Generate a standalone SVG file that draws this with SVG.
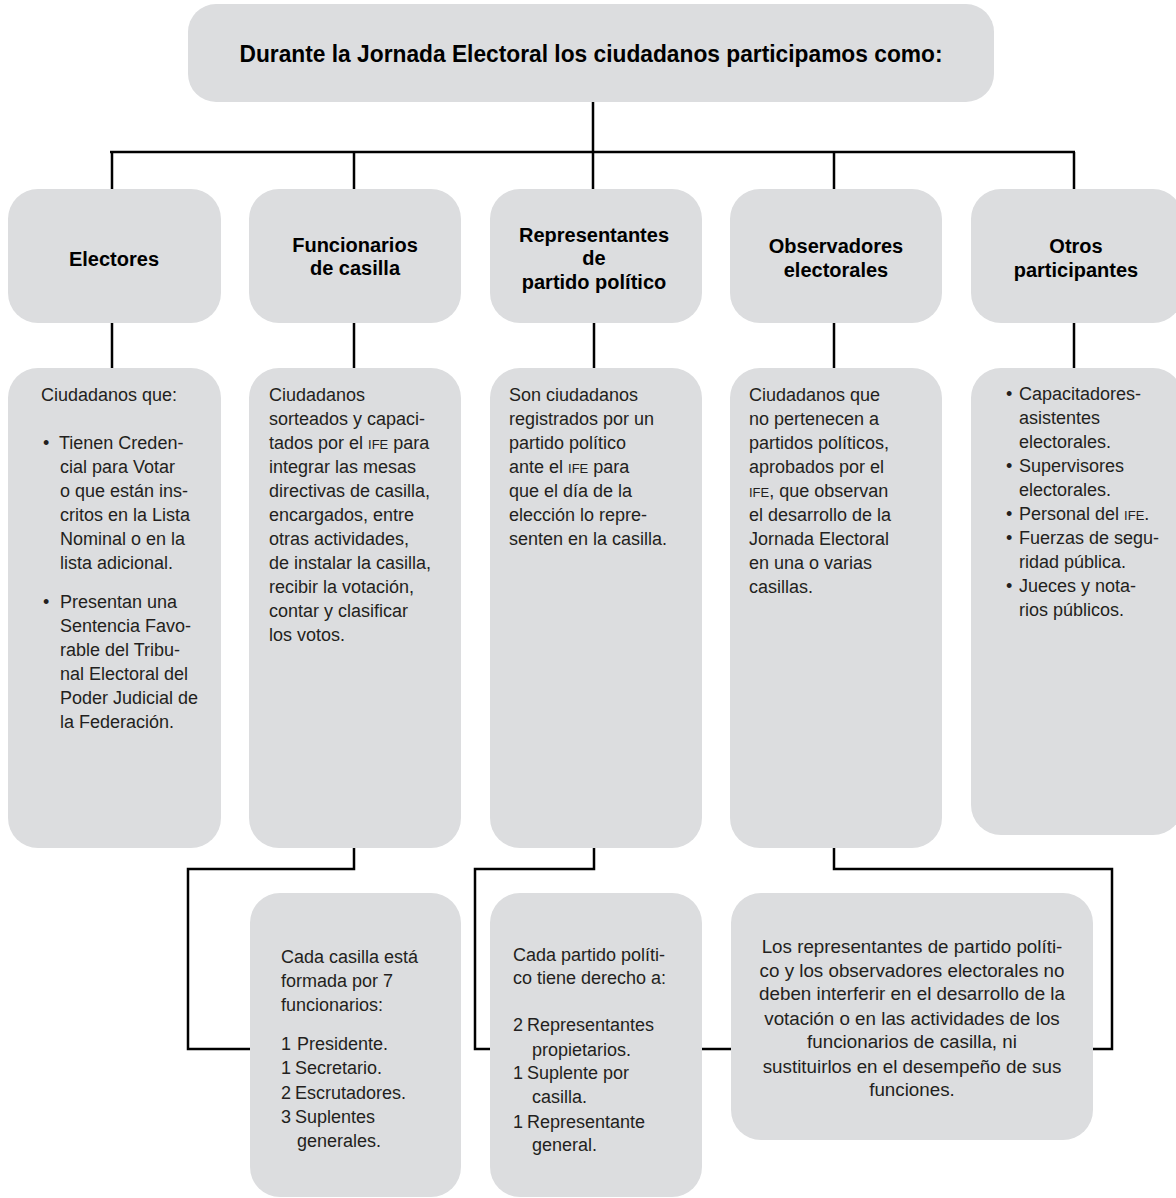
<svg xmlns="http://www.w3.org/2000/svg" width="1176" height="1198" viewBox="0 0 1176 1198">
<style>
.box{fill:#dcdddf}
.hd{font-family:"Liberation Sans",Arial,sans-serif;font-weight:bold;font-size:20px;fill:#000;text-anchor:middle}
.tt{font-family:"Liberation Sans",Arial,sans-serif;font-weight:bold;font-size:23px;fill:#000;text-anchor:middle}
.tx{font-family:"Liberation Sans",Arial,sans-serif;font-size:18px;fill:#231f20}
.tc{font-family:"Liberation Sans",Arial,sans-serif;font-size:18.8px;fill:#231f20;text-anchor:middle}
.sc{font-size:13px}
.ln{stroke:#000;stroke-width:2.5;fill:none}
</style>
<rect width="1176" height="1198" fill="#fff"/>
<g id="connectors">
<path class="ln" d="M593 102V152M110 152H1075M112 152V189M354 152V189M593 152V189M834 152V189M1074 152V189"/>
<path class="ln" d="M112 323V368M354 323V368M594 323V368M834 323V368M1074 323V368"/>
<path class="ln" d="M354 848V869H188V1049H250"/>
<path class="ln" d="M594 848V869H475V1049H490"/>
<path class="ln" d="M702 1049H731"/>
<path class="ln" d="M834 848V869H1112V1049H1093"/>
</g>
<g id="title">
<rect class="box" x="188" y="4" width="806" height="98" rx="28"/>
<text class="tt" x="591" y="62" textLength="703" lengthAdjust="spacingAndGlyphs">Durante la Jornada Electoral los ciudadanos participamos como:</text>
</g>
<g id="h-electores">
<rect class="box" x="8" y="189" width="213" height="134" rx="30"/>
<text class="hd" x="114" y="266">Electores</text>
</g>
<g id="h-funcionarios">
<rect class="box" x="249" y="189" width="212" height="134" rx="30"/>
<text class="hd" x="355" y="252">Funcionarios</text>
<text class="hd" x="355" y="275">de casilla</text>
</g>
<g id="h-representantes">
<rect class="box" x="490" y="189" width="212" height="134" rx="30"/>
<text class="hd" x="594" y="242">Representantes</text>
<text class="hd" x="594" y="265">de</text>
<text class="hd" x="594" y="289">partido político</text>
</g>
<g id="h-observadores">
<rect class="box" x="730" y="189" width="212" height="134" rx="30"/>
<text class="hd" x="836" y="253">Observadores</text>
<text class="hd" x="836" y="277">electorales</text>
</g>
<g id="h-otros">
<rect class="box" x="971" y="189" width="212" height="134" rx="30"/>
<text class="hd" x="1076" y="253">Otros</text>
<text class="hd" x="1076" y="277">participantes</text>
</g>
<g id="b-electores">
<rect class="box" x="8" y="368" width="213" height="480" rx="30"/>
<text class="tx" x="41" y="401">Ciudadanos que:</text>
<text class="tx" x="43" y="449">•</text>
<text class="tx" x="59" y="449">Tienen Creden-</text>
<text class="tx" x="60" y="473">cial para Votar</text>
<text class="tx" x="60" y="497">o que están ins-</text>
<text class="tx" x="60" y="521">critos en la Lista</text>
<text class="tx" x="60" y="545">Nominal o en la</text>
<text class="tx" x="60" y="569">lista adicional.</text>
<text class="tx" x="43" y="608">•</text>
<text class="tx" x="60" y="608">Presentan una</text>
<text class="tx" x="60" y="632">Sentencia Favo-</text>
<text class="tx" x="60" y="656">rable del Tribu-</text>
<text class="tx" x="60" y="680">nal Electoral del</text>
<text class="tx" x="60" y="704">Poder Judicial de</text>
<text class="tx" x="60" y="728">la Federación.</text>
</g>
<g id="b-funcionarios">
<rect class="box" x="249" y="368" width="212" height="480" rx="30"/>
<text class="tx" x="269" y="401">Ciudadanos</text>
<text class="tx" x="269" y="425">sorteados y capaci-</text>
<text class="tx" x="269" y="449">tados por el <tspan class="sc">IFE</tspan> para</text>
<text class="tx" x="269" y="473">integrar las mesas</text>
<text class="tx" x="269" y="497">directivas de casilla,</text>
<text class="tx" x="269" y="521">encargados, entre</text>
<text class="tx" x="269" y="545">otras actividades,</text>
<text class="tx" x="269" y="569">de instalar la casilla,</text>
<text class="tx" x="269" y="593">recibir la votación,</text>
<text class="tx" x="269" y="617">contar y clasificar</text>
<text class="tx" x="269" y="641">los votos.</text>
</g>
<g id="b-representantes">
<rect class="box" x="490" y="368" width="212" height="480" rx="30"/>
<text class="tx" x="509" y="401">Son ciudadanos</text>
<text class="tx" x="509" y="425">registrados por un</text>
<text class="tx" x="509" y="449">partido político</text>
<text class="tx" x="509" y="473">ante el <tspan class="sc">IFE</tspan> para</text>
<text class="tx" x="509" y="497">que el día de la</text>
<text class="tx" x="509" y="521">elección lo repre-</text>
<text class="tx" x="509" y="545">senten en la casilla.</text>
</g>
<g id="b-observadores">
<rect class="box" x="730" y="368" width="212" height="480" rx="30"/>
<text class="tx" x="749" y="401">Ciudadanos que</text>
<text class="tx" x="749" y="425">no pertenecen a</text>
<text class="tx" x="749" y="449">partidos políticos,</text>
<text class="tx" x="749" y="473">aprobados por el</text>
<text class="tx" x="749" y="497"><tspan class="sc">IFE</tspan>, que observan</text>
<text class="tx" x="749" y="521">el desarrollo de la</text>
<text class="tx" x="749" y="545">Jornada Electoral</text>
<text class="tx" x="749" y="569">en una o varias</text>
<text class="tx" x="749" y="593">casillas.</text>
</g>
<g id="b-otros">
<rect class="box" x="971" y="368" width="212" height="467" rx="30"/>
<text class="tx" x="1006" y="400">•</text>
<text class="tx" x="1019" y="400">Capacitadores-</text>
<text class="tx" x="1019" y="424">asistentes</text>
<text class="tx" x="1019" y="448">electorales.</text>
<text class="tx" x="1006" y="472">•</text>
<text class="tx" x="1019" y="472">Supervisores</text>
<text class="tx" x="1019" y="496">electorales.</text>
<text class="tx" x="1006" y="520">•</text>
<text class="tx" x="1019" y="520">Personal del <tspan class="sc">IFE</tspan>.</text>
<text class="tx" x="1006" y="544">•</text>
<text class="tx" x="1019" y="544">Fuerzas de segu-</text>
<text class="tx" x="1019" y="568">ridad pública.</text>
<text class="tx" x="1006" y="592">•</text>
<text class="tx" x="1019" y="592">Jueces y nota-</text>
<text class="tx" x="1019" y="616">rios públicos.</text>
</g>
<g id="c-funcionarios">
<rect class="box" x="250" y="893" width="211" height="304" rx="30"/>
<text class="tx" x="281" y="963">Cada casilla está</text>
<text class="tx" x="281" y="987">formada por 7</text>
<text class="tx" x="281" y="1011">funcionarios:</text>
<text class="tx" x="281" y="1050">1</text><text class="tx" x="297" y="1050">Presidente.</text>
<text class="tx" x="281" y="1074">1</text><text class="tx" x="295" y="1074">Secretario.</text>
<text class="tx" x="281" y="1099">2</text><text class="tx" x="295" y="1099">Escrutadores.</text>
<text class="tx" x="281" y="1123">3</text><text class="tx" x="295" y="1123">Suplentes</text>
<text class="tx" x="297" y="1147">generales.</text>
</g>
<g id="c-representantes">
<rect class="box" x="490" y="893" width="212" height="304" rx="30"/>
<text class="tx" x="513" y="961">Cada partido políti-</text>
<text class="tx" x="513" y="984">co tiene derecho a:</text>
<text class="tx" x="513" y="1031">2</text><text class="tx" x="527" y="1031">Representantes</text>
<text class="tx" x="532" y="1056">propietarios.</text>
<text class="tx" x="513" y="1079">1</text><text class="tx" x="527" y="1079">Suplente por</text>
<text class="tx" x="532" y="1103">casilla.</text>
<text class="tx" x="513" y="1128">1</text><text class="tx" x="527" y="1128">Representante</text>
<text class="tx" x="532" y="1151">general.</text>
</g>
<g id="c-nota">
<rect class="box" x="731" y="893" width="362" height="247" rx="30"/>
<text class="tc" x="912" y="953">Los representantes de partido políti-</text>
<text class="tc" x="912" y="977">co y los observadores electorales no</text>
<text class="tc" x="912" y="1000">deben interferir en el desarrollo de la</text>
<text class="tc" x="912" y="1025">votación o en las actividades de los</text>
<text class="tc" x="912" y="1048">funcionarios de casilla, ni</text>
<text class="tc" x="912" y="1073">sustituirlos en el desempeño de sus</text>
<text class="tc" x="912" y="1096">funciones.</text>
</g>
</svg>
